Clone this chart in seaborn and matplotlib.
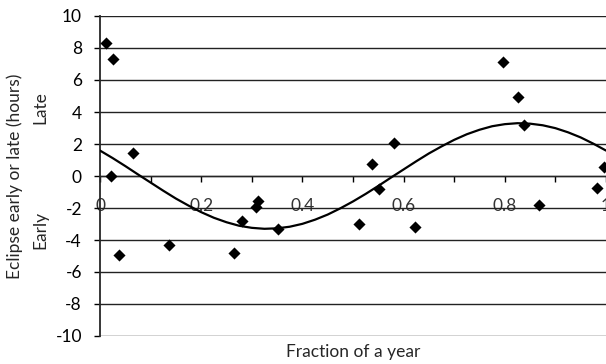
import matplotlib
matplotlib.use("Agg")
import matplotlib.pyplot as plt
import numpy as np
import pandas as pd
import seaborn as sns

# observed eclipses: fraction of a year vs. hours early/late
frac = [0.012, 0.026, 0.022, 0.066, 0.037, 0.137, 0.265, 0.281, 0.312, 0.308,
        0.351, 0.512, 0.538, 0.552, 0.582, 0.622, 0.797, 0.827, 0.838, 0.868,
        0.982, 0.997]
hours = [8.3, 7.3, 0.02, 1.46, -4.94, -4.3, -4.83, -2.79, -1.54, -1.96,
         -3.31, -3.0, 0.75, -0.81, 2.08, -3.21, 7.1, 4.96, 3.17, -1.81,
         -0.77, 0.58]

# fitted curve, every 0.025
curve_x = [0.0, 0.025, 0.05, 0.075, 0.1, 0.125, 0.15, 0.175, 0.2, 0.225,
           0.25, 0.275, 0.3, 0.325, 0.35, 0.375, 0.4, 0.425, 0.45, 0.475,
           0.5, 0.525, 0.55, 0.575, 0.6, 0.625, 0.65, 0.675, 0.7, 0.725,
           0.75, 0.775, 0.8, 0.825, 0.85, 0.875, 0.9, 0.925, 0.95, 0.975, 1.0]
curve_y = [1.59, 1.12, 0.62, 0.10, -0.41, -0.92, -1.41, -1.85, -2.26, -2.61,
           -2.89, -3.11, -3.24, -3.30, -3.27, -3.17, -2.99, -2.73, -2.41, -2.02,
           -1.59, -1.12, -0.62, -0.10, 0.41, 0.92, 1.41, 1.85, 2.26, 2.61,
           2.89, 3.11, 3.24, 3.30, 3.27, 3.17, 2.99, 2.73, 2.41, 2.02, 1.59]

xticks = [0, 0.2, 0.4, 0.6, 0.8, 1]
xtick_labels = ["0", "0.2", "0.4", "0.6", "0.8", "1"]
yticks = [-10, -8, -6, -4, -2, 0, 2, 4, 6, 8, 10]

sns.set_style("white")
plt.rcParams['font.family'] = ['Lato', 'DejaVu Sans']

pts = pd.DataFrame({"frac": frac, "hours": hours})
fit = pd.DataFrame({"x": curve_x, "y": curve_y})

fig = plt.figure(figsize=(6.06, 3.64), dpi=100)
ax = fig.add_axes([100 / 606, 1 - 336 / 364, 506 / 606, 320 / 364])

# horizontal grid
for y in yticks:
    ax.axhline(y, color="#222222", lw=1.0, zorder=1)

sns.lineplot(data=fit, x="x", y="y", ax=ax, color="black", lw=1.6, zorder=3)
sns.scatterplot(data=pts, x="frac", y="hours", ax=ax, marker="D", s=38,
                color="black", edgecolor="black", linewidth=0, zorder=4)

ax.set_xlim(0, 1)
ax.set_ylim(-10, 10)
ax.set_yticks(yticks)
ax.set_yticklabels([str(v) for v in yticks])
ax.set_xticks(xticks)
ax.set_xticklabels(xtick_labels)
ax.set_xticks(np.arange(0.1, 1.0, 0.2), minor=True)

ax.spines['top'].set_visible(False)
ax.spines['right'].set_visible(False)
ax.spines['bottom'].set_position(('data', 0))
ax.spines['bottom'].set_zorder(2)
ax.spines['left'].set_linewidth(1.3)
ax.spines['bottom'].set_linewidth(1.0)

ax.tick_params(axis='y', direction='out', length=4, width=1, pad=9,
               labelsize=12.5, left=True, colors='black')
ax.tick_params(axis='x', which='both', direction='out', length=4, width=1,
               pad=12, labelsize=12.5, bottom=True, colors='black')
for lbl in ax.get_xticklabels():
    lbl.set_color("#333333")

ax.set_xlabel("")
ax.set_ylabel("")

fig.text(353 / 606, 1 - 352 / 364, "Fraction of a year", ha="center",
         va="center", fontsize=12.5)
fig.text(15 / 606, 1 - 176 / 364, "Eclipse early or late (hours)",
         rotation=90, ha="center", va="center", fontsize=12.5)
fig.text(40 / 606, 1 - 108 / 364, "Late", rotation=90, ha="center",
         va="center", fontsize=12.5)
fig.text(40 / 606, 1 - 230 / 364, "Early", rotation=90, ha="center",
         va="center", fontsize=12.5)

fig.savefig("out.png", dpi=100)
